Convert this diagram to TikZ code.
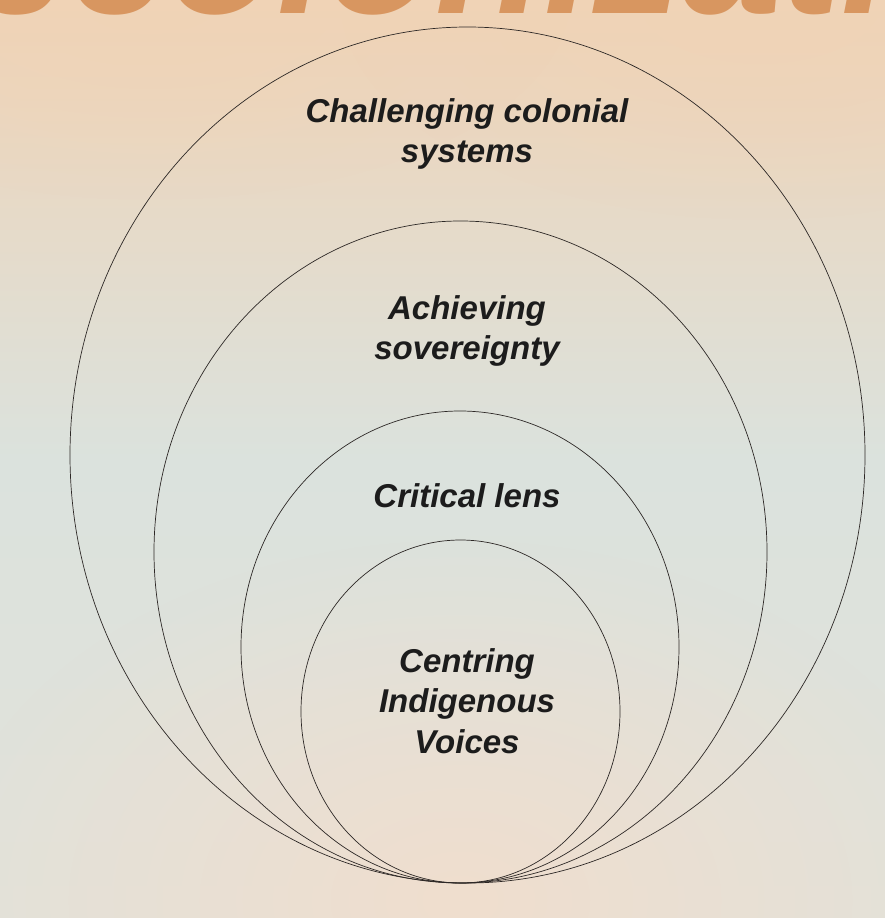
\documentclass[tikz,border=0pt]{standalone}
\usepackage{fontspec}
\setmainfont{Liberation Sans}
\usetikzlibrary{fadings}
\definecolor{bgtop}{RGB}{240,211,182}
\definecolor{bgmid}{RGB}{219,226,221}
\definecolor{bgbot}{RGB}{226,226,218}
\definecolor{warm}{RGB}{240,222,206}
\definecolor{titleorange}{RGB}{216,150,96}
\definecolor{ink}{RGB}{28,28,28}
\definecolor{ringline}{RGB}{45,40,38}
\tikzfading[name=softglow, inner color=transparent!0, outer color=transparent!100]
\begin{document}
\begin{tikzpicture}[x=1pt,y=-1pt,
  ring/.style={draw=ringline, line width=0.7pt},
  label/.style={font=\fontsize{33}{40.5}\selectfont\bfseries\itshape, text=ink, align=center, inner sep=0pt}]
\useasboundingbox (0,0) rectangle (885,918);
% background
\shade[top color=bgtop, bottom color=bgbot, middle color=bgmid] (0,0) rectangle (885,918);
\fill[warm, path fading=softglow] (460,900) ellipse [x radius=520, y radius=360];
\fill[bgtop, path fading=softglow, opacity=0.7] (760,0) ellipse [x radius=420, y radius=220];
\fill[bgtop, path fading=softglow, opacity=0.6] (150,0) ellipse [x radius=420, y radius=200];
% partial title
\node[anchor=base west, inner sep=0pt, text=titleorange,
  font=\fontsize{178}{178}\selectfont\bfseries\itshape] (title) at (-158,13) {Decolonization};
% rings
\draw[ring] (467.5,455) ellipse [x radius=397.5, y radius=428];
\draw[ring] (460.5,552) ellipse [x radius=306.5, y radius=331];
\draw[ring] (460,647) ellipse [x radius=219, y radius=236];
\draw[ring] (460.5,711.5) ellipse [x radius=159.5, y radius=171.5];
% labels
\node[label] (l1) at (467,134) {Challenging colonial\\systems};
\node[label] (l2) at (467,331) {Achieving\\sovereignty};
\node[label] (l3) at (467,496) {Critical lens};
\node[label] (l4) at (467,701) {Centring\\Indigenous\\Voices};
\end{tikzpicture}
\end{document}
